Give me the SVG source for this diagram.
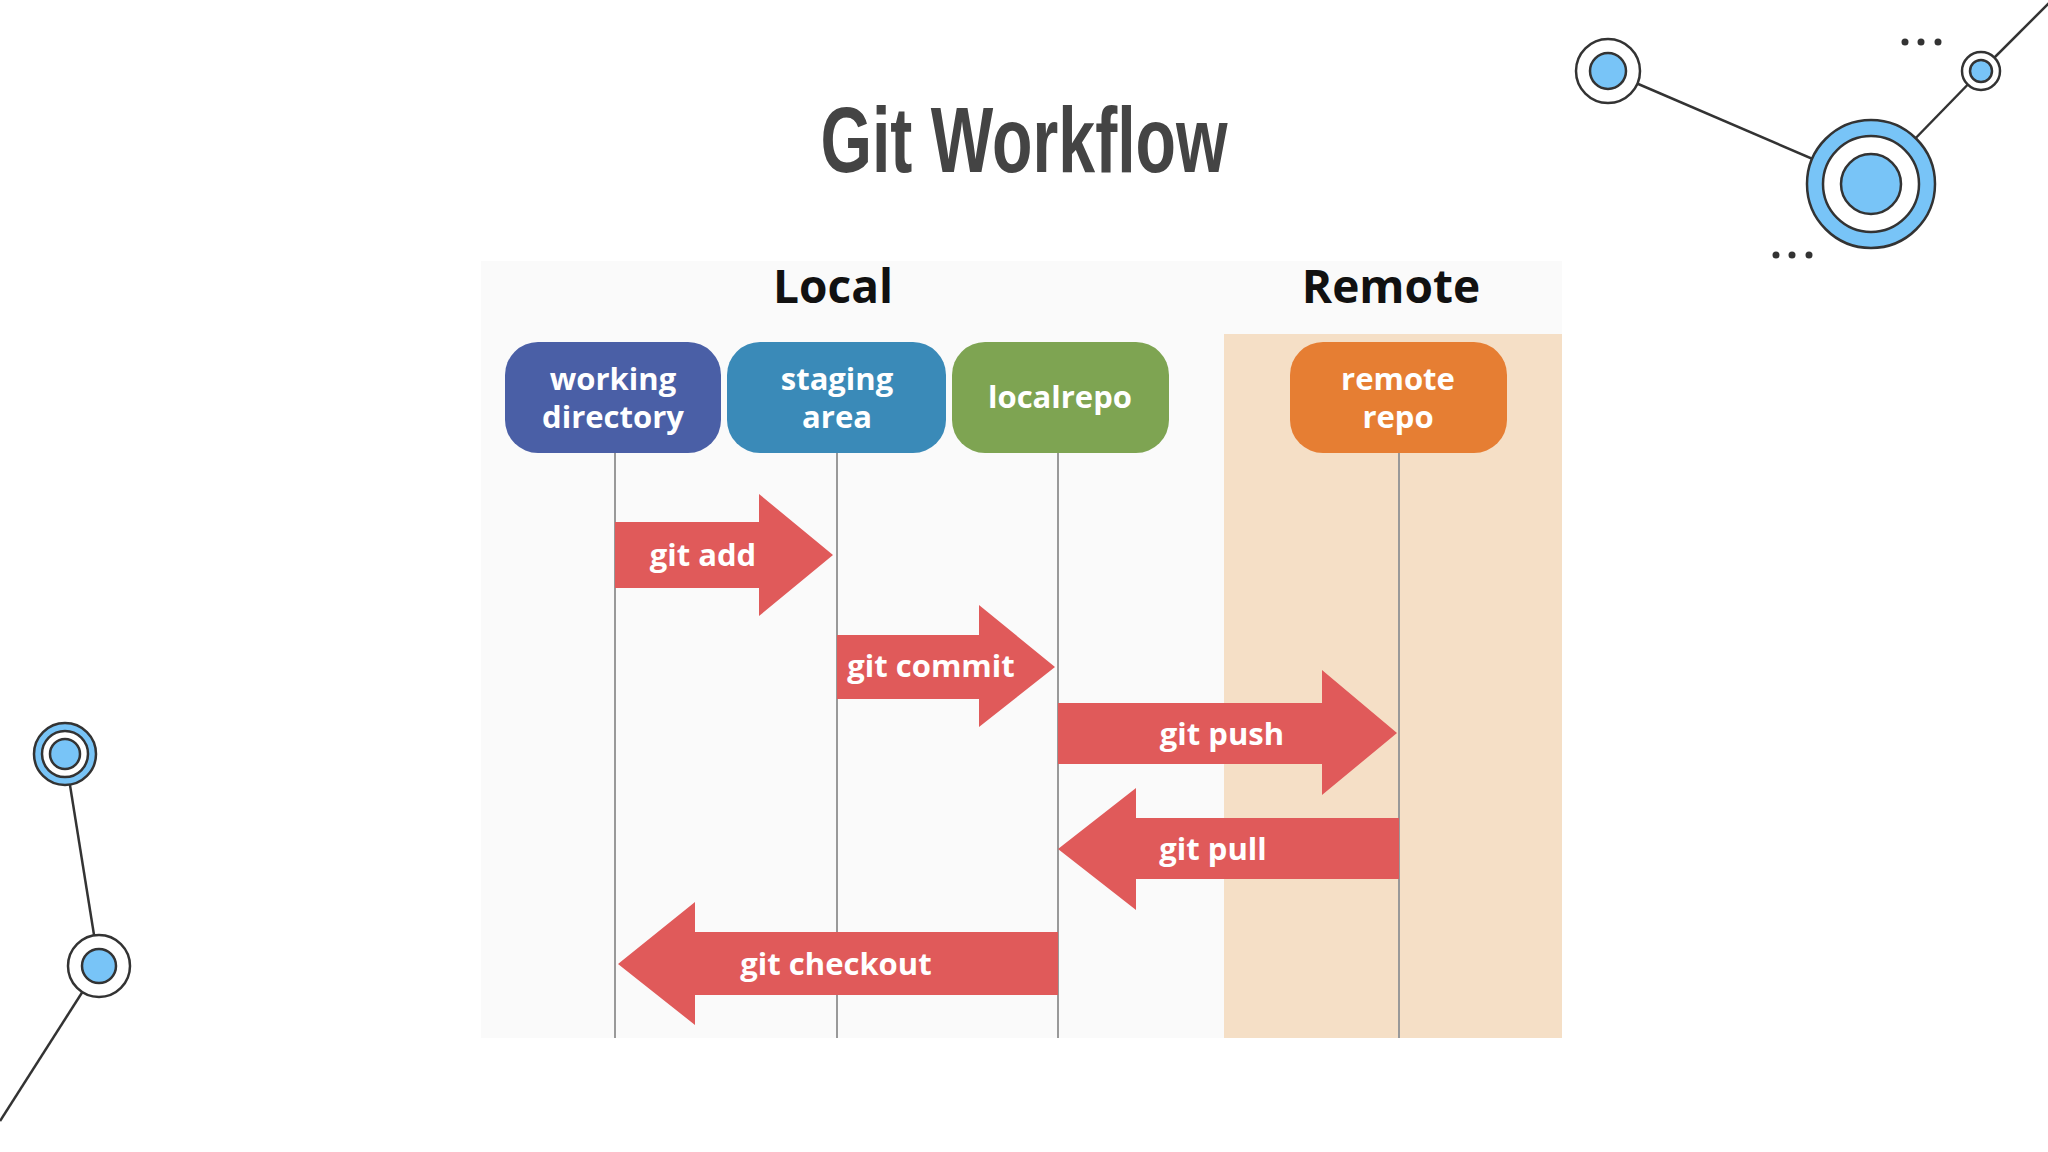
<svg xmlns="http://www.w3.org/2000/svg" width="2048" height="1152" viewBox="0 0 2048 1152">
<style>
.ln{stroke:#333;stroke-width:2.5;fill:none}
.bl{fill:#78c4f7;stroke:#333;stroke-width:2.5}
.wh{fill:#fff;stroke:#333;stroke-width:2.5}
.node text,.arr text{font-family:"Open Sans","Liberation Sans",sans-serif;font-weight:bold;fill:#fff;font-size:31px;text-anchor:middle}
.arr path{fill:#e05a5a}
.life{stroke:#999;stroke-width:2}
.hd{font-family:"Open Sans","Liberation Sans",sans-serif;font-weight:bold;font-size:46px;fill:#111;text-anchor:middle}
.dot{fill:#333}
</style>
<rect width="2048" height="1152" fill="#fff"/>
<g id="deco">
<line class="ln" x1="1608" y1="71" x2="1871" y2="184"/>
<line class="ln" x1="1871" y1="184" x2="1981" y2="71"/>
<line class="ln" x1="1981" y1="71" x2="2052" y2="0"/>
<circle class="wh" cx="1608" cy="71" r="32"/><circle class="bl" cx="1608" cy="71" r="18"/>
<circle class="bl" cx="1871" cy="184" r="64"/><circle class="wh" cx="1871" cy="184" r="48"/><circle class="bl" cx="1871" cy="184" r="30"/>
<circle class="wh" cx="1981" cy="71" r="19"/><circle class="bl" cx="1981" cy="71" r="11"/>
<circle class="dot" cx="1905" cy="42" r="3.5"/><circle class="dot" cx="1921" cy="42" r="3.5"/><circle class="dot" cx="1938" cy="42" r="3.5"/>
<circle class="dot" cx="1776" cy="255" r="3.5"/><circle class="dot" cx="1792" cy="255" r="3.5"/><circle class="dot" cx="1809" cy="255" r="3.5"/>
<line class="ln" x1="65" y1="754" x2="99" y2="966"/>
<line class="ln" x1="99" y1="966" x2="0" y2="1121"/>
<circle class="bl" cx="65" cy="754" r="31"/><circle class="wh" cx="65" cy="754" r="23"/><circle class="bl" cx="65" cy="754" r="15"/>
<circle class="wh" cx="99" cy="966" r="31"/><circle class="bl" cx="99" cy="966" r="17"/>
</g>
<text x="1024" y="172" font-family="'Liberation Sans Narrow','Liberation Sans',sans-serif" font-weight="bold" font-size="92" fill="#444" text-anchor="middle" transform="translate(1024 0) scale(0.72 1) translate(-1024 0)">Git Workflow</text>
<rect x="481" y="261" width="1081" height="777" fill="#fafafa"/>
<rect x="1224" y="334" width="338" height="704" fill="#f5dfc6"/>
<text class="hd" x="833" y="303">Local</text>
<text class="hd" x="1391" y="303">Remote</text>
<g id="lifelines">
<line class="life" x1="615" y1="453" x2="615" y2="1038"/>
<line class="life" x1="837" y1="453" x2="837" y2="1038"/>
<line class="life" x1="1058" y1="453" x2="1058" y2="1038"/>
<line class="life" x1="1399" y1="453" x2="1399" y2="1038"/>
</g>
<g id="n1" class="node"><rect x="505" y="342" width="216" height="111" rx="33" fill="#4a5fa6"/><text x="613" y="390">working</text><text x="613" y="428">directory</text></g>
<g id="n2" class="node"><rect x="727" y="342" width="219" height="111" rx="33" fill="#3a8ab8"/><text x="837" y="390">staging</text><text x="837" y="428">area</text></g>
<g id="n3" class="node"><rect x="952" y="342" width="217" height="111" rx="33" fill="#7ea452"/><text x="1060" y="408">localrepo</text></g>
<g id="n4" class="node"><rect x="1290" y="342" width="217" height="111" rx="33" fill="#e67e33"/><text x="1398" y="390">remote</text><text x="1398" y="428">repo</text></g>
<g id="connectors">
<g class="arr"><path d="M615 522H759V494L833 555L759 616V588H615Z"/><text x="703" y="566">git add</text></g>
<g class="arr"><path d="M837 635H979V605L1055 667L979 727V699H837Z"/><text x="931" y="677">git commit</text></g>
<g class="arr"><path d="M1058 703H1322V670L1397 733L1322 795V764H1058Z"/><text x="1222" y="745">git push</text></g>
<g class="arr"><path d="M1399 818H1136V788L1058 849L1136 910V879H1399Z"/><text x="1213" y="860">git pull</text></g>
<g class="arr"><path d="M1058 932H695V902L618 964L695 1025V995H1058Z"/><text x="836" y="975">git checkout</text></g>
</g>
</svg>
